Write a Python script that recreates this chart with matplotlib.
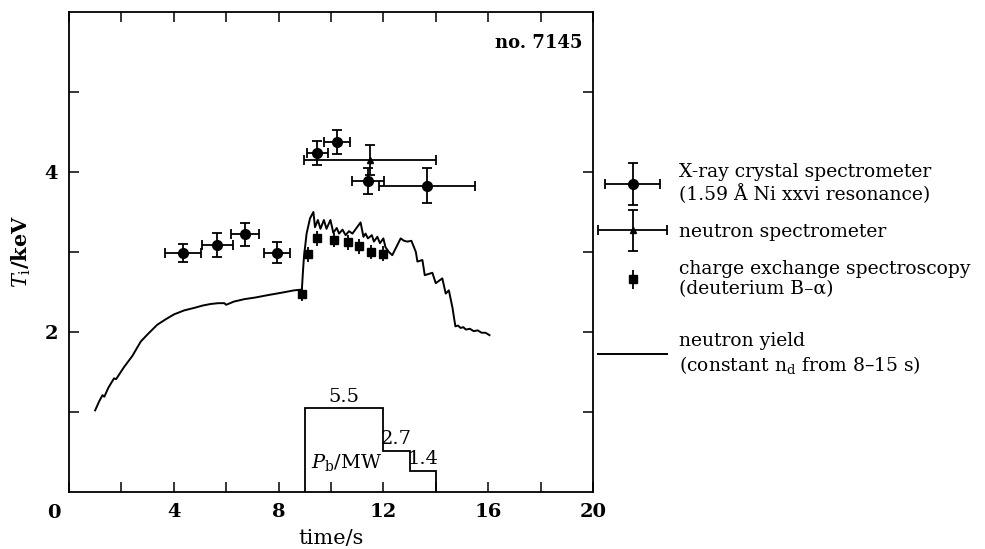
import matplotlib
matplotlib.use("Agg")
import matplotlib.pyplot as plt
from matplotlib.legend_handler import HandlerErrorbar

plt.rcParams['font.family'] = ['DejaVu Serif']
plt.rcParams['mathtext.fontset'] = 'dejavuserif'

# X-ray crystal spectrometer (time, T_i, errors)
xray_t = [4.35, 5.66, 6.72, 7.94, 9.47, 10.23, 11.41, 13.66]
xray_T = [2.99, 3.09, 3.22, 2.99, 4.24, 4.37, 3.89, 3.83]
xray_terr = [0.69, 0.6, 0.55, 0.5, 0.4, 0.5, 0.6, 1.83]
xray_Terr = [0.11, 0.15, 0.14, 0.13, 0.15, 0.15, 0.16, 0.22]

# neutron spectrometer
nspec_t = [11.5]
nspec_T = [4.15]
nspec_terr = [2.52]
nspec_Terr = [0.19]

# charge exchange spectroscopy
cx_t = [8.89, 9.12, 9.47, 10.1, 10.65, 11.07, 11.53, 12.0]
cx_T = [2.48, 2.97, 3.17, 3.15, 3.12, 3.07, 3.0, 2.98]
cx_Terr = [0.09, 0.09, 0.09, 0.09, 0.09, 0.09, 0.09, 0.09]

# neutron yield trace
yield_t = [1.00, 1.15, 1.28, 1.35, 1.50, 1.72, 1.80, 2.10, 2.42, 2.74,
           3.00, 3.37, 3.70, 4.01, 4.40, 4.77, 5.10, 5.41, 5.70, 5.93,
           6.00, 6.30, 6.69, 7.10, 7.58, 8.10, 8.59, 8.89, 8.93, 8.97,
           9.07, 9.20, 9.33, 9.39, 9.50, 9.60, 9.73, 9.83, 9.98, 10.09,
           10.22, 10.31, 10.44, 10.56, 10.69, 10.82, 11.13, 11.24, 11.32, 11.41,
           11.56, 11.64, 11.77, 11.87, 12.00, 12.08, 12.21, 12.34, 12.66, 12.79,
           12.92, 13.07, 13.24, 13.30, 13.49, 13.58, 13.87, 14.00, 14.25, 14.38,
           14.50, 14.64, 14.70, 14.75, 14.85, 14.95, 15.05, 15.15, 15.30, 15.45,
           15.60, 15.75, 15.90, 16.05]
yield_T = [1.02, 1.13, 1.21, 1.19, 1.30, 1.42, 1.41, 1.56, 1.70, 1.88,
           1.97, 2.09, 2.16, 2.22, 2.27, 2.30, 2.33, 2.35, 2.36, 2.36,
           2.34, 2.38, 2.41, 2.43, 2.46, 2.49, 2.52, 2.53, 2.75, 2.94,
           3.23, 3.42, 3.50, 3.31, 3.40, 3.29, 3.40, 3.29, 3.40, 3.24,
           3.30, 3.23, 3.28, 3.21, 3.26, 3.23, 3.37, 3.19, 3.23, 3.17,
           3.21, 3.13, 3.19, 3.11, 3.17, 3.06, 3.00, 2.96, 3.17, 3.14,
           3.13, 3.14, 3.00, 2.88, 2.90, 2.71, 2.74, 2.61, 2.67, 2.48,
           2.52, 2.30, 2.17, 2.07, 2.08, 2.05, 2.06, 2.03, 2.04, 2.01,
           2.02, 1.99, 1.99, 1.96]

# beam power steps
power_edges = [9, 12, 13, 14]
power_mw = [5.5, 2.7, 1.4]
kev_per_mw = 0.19  # drawing scale of the power inset

fig, ax = plt.subplots(figsize=(9.85, 5.49), dpi=100)
fig.subplots_adjust(left=0.070, right=0.602, bottom=0.104, top=0.978)

line, = ax.plot(yield_t, yield_T, color='black', lw=1.4)

cx = ax.errorbar(cx_t, cx_T, yerr=cx_Terr, fmt='s', color='black',
                 ms=5.5, elinewidth=1.3, capsize=0)
xr = ax.errorbar(xray_t, xray_T, xerr=xray_terr, yerr=xray_Terr, fmt='o',
                 color='black', ms=7, elinewidth=1.3, capsize=3.5, capthick=1.3)
ns = ax.errorbar(nspec_t, nspec_T, xerr=nspec_terr, yerr=nspec_Terr, fmt='^',
                 color='black', ms=4, elinewidth=1.3, capsize=3.5, capthick=1.3)

# beam power inset
power_h = [p * kev_per_mw for p in power_mw]
ax.stairs(power_h, power_edges, baseline=0, color='black', lw=1.3)
for i, p in enumerate(power_mw):
    xc = (power_edges[i] + power_edges[i + 1]) / 2
    ax.text(xc, power_h[i] + 0.03, f"{p}", ha='center', va='bottom', fontsize=14)
ax.text(10.6, 0.37, r"$P_\mathrm{b}$/MW", ha='center', va='center', fontsize=14)

ax.set_xlim(0, 20)
ax.set_ylim(0, 6)
ax.set_xticks(range(0, 21, 2))
ax.set_xticklabels(['' if (v % 4 or v == 0) else str(v) for v in range(0, 21, 2)])
ax.set_yticks([1, 2, 3, 4, 5])
ax.set_yticklabels(['', '2', '', '4', ''])
ax.annotate('0', xy=(0, 0), xycoords='data', xytext=(-11, -9),
            textcoords='offset points', ha='center', va='top', fontsize=14,
            fontweight='bold')
ax.tick_params(direction='in', length=7, width=1.1, top=True, right=True,
               labelsize=14, pad=8)
for lab in ax.get_xticklabels() + ax.get_yticklabels():
    lab.set_fontweight('bold')
for s in ax.spines.values():
    s.set_linewidth(1.3)

ax.set_xlabel("time/s", fontsize=15, labelpad=6)
ax.set_ylabel(r"$T_\mathrm{i}$/keV", fontsize=15, labelpad=8, fontweight='bold')
ax.text(0.98, 0.955, "no. 7145", transform=ax.transAxes, ha='right', va='top',
        fontsize=13, fontweight='bold')

leg_kw = dict(loc='upper left', frameon=False, fontsize=13.5, handlelength=3.7,
              handletextpad=0.65, labelspacing=1.0, borderpad=0,
              borderaxespad=0)
leg1 = fig.legend([xr, ns, cx],
                  ["X-ray crystal spectrometer\n(1.59 Å Ni xxvi resonance)",
                   "neutron spectrometer",
                   "charge exchange spectroscopy\n(deuterium B–α)"],
                  bbox_to_anchor=(0.607, 0.703),
                  handler_map={xr: HandlerErrorbar(xerr_size=1.45, yerr_size=1.1),
                               ns: HandlerErrorbar(xerr_size=1.85, yerr_size=1.1),
                               cx: HandlerErrorbar(xerr_size=0.0, yerr_size=0.5)},
                  **leg_kw)
fig.legend([line], ["neutron yield\n(constant n$_\\mathrm{d}$ from 8–15 s)"],
           bbox_to_anchor=(0.607, 0.395), **leg_kw)

fig.savefig("out.png", dpi=100)
